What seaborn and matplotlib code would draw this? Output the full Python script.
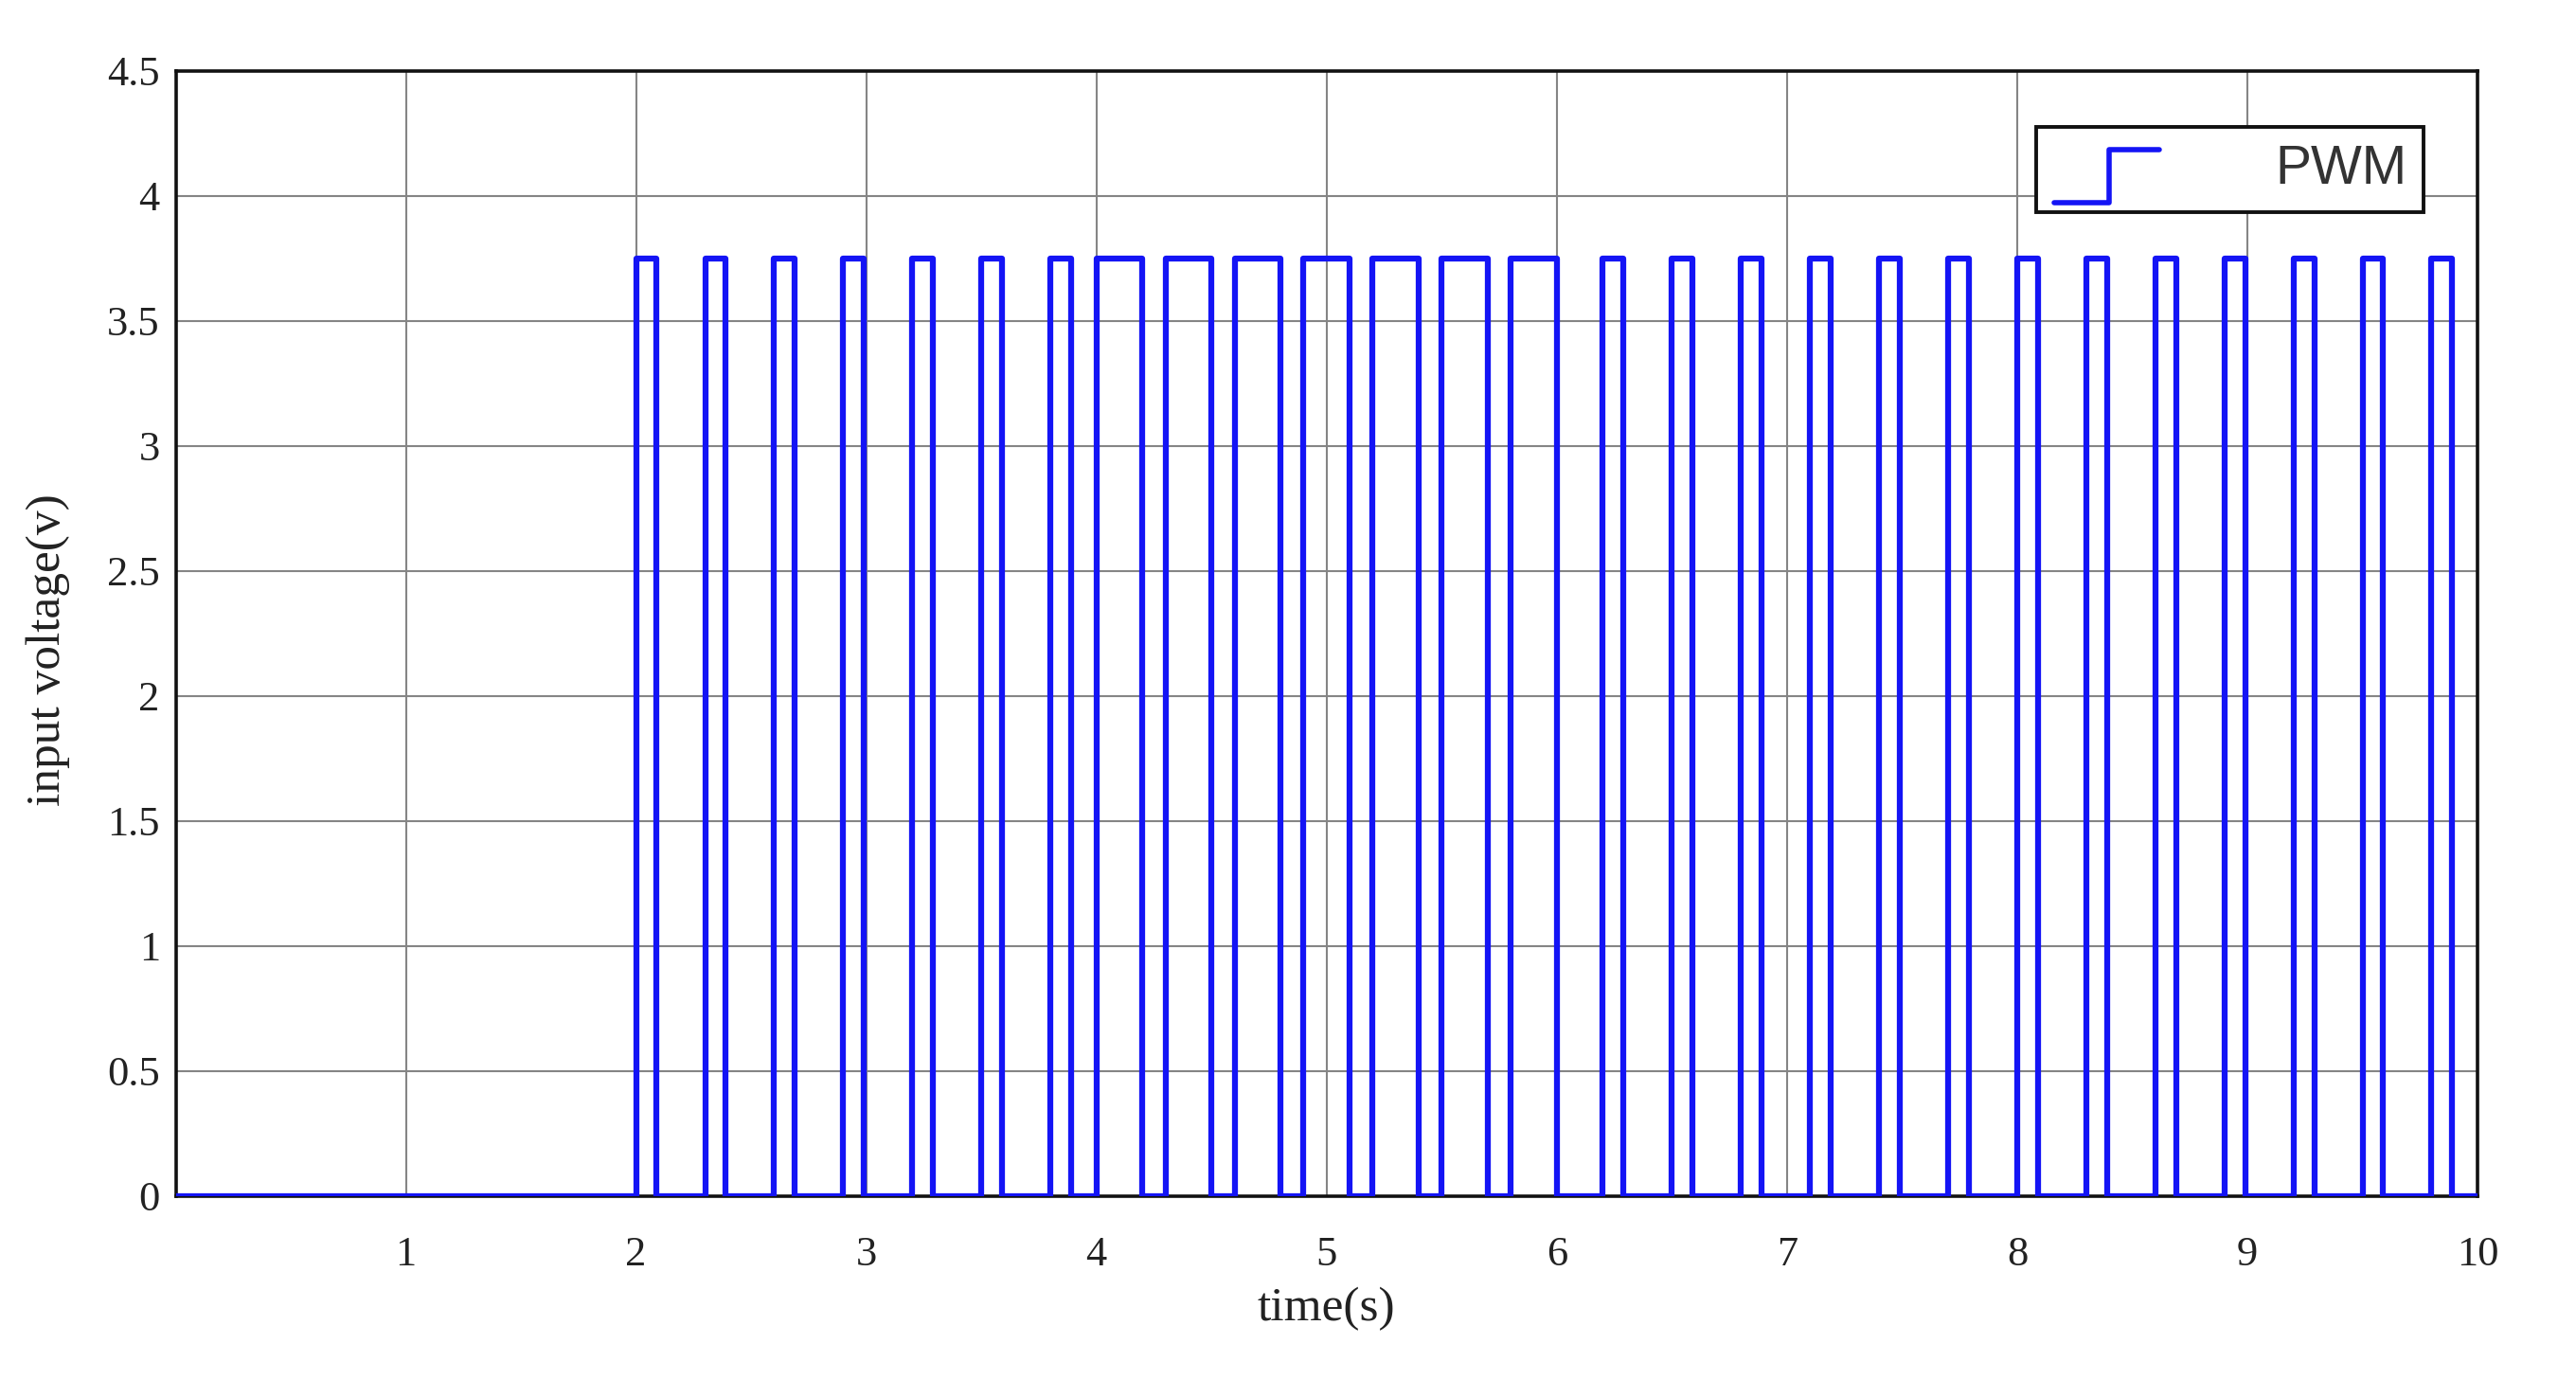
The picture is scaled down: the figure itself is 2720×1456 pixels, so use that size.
import numpy as np
import pandas as pd
import seaborn as sns
import matplotlib
matplotlib.use("Agg")
import matplotlib.pyplot as plt
from matplotlib.lines import Line2D
from matplotlib.legend_handler import HandlerBase

# pulse train (rise time, width in s), amplitude in V
pulse_start = [2.0, 2.3, 2.6, 2.9, 3.2, 3.5, 3.8,
               4.0, 4.3, 4.6, 4.9, 5.2, 5.5, 5.8,
               6.2, 6.5, 6.8, 7.1, 7.4, 7.7, 8.0, 8.3, 8.6, 8.9, 9.2, 9.5, 9.8]
pulse_width = [0.09, 0.09, 0.09, 0.09, 0.09, 0.09, 0.09,
               0.2, 0.2, 0.2, 0.2, 0.2, 0.2, 0.2,
               0.09, 0.09, 0.09, 0.09, 0.09, 0.09, 0.09, 0.09, 0.09, 0.09, 0.09, 0.09, 0.09]
pulse_level = 3.75
t_end = 10.0

xticks = [1, 2, 3, 4, 5, 6, 7, 8, 9, 10]
yticks = [0, 0.5, 1, 1.5, 2, 2.5, 3, 3.5, 4, 4.5]
ytick_labels = ["0", "0.5", "1", "1.5", "2", "2.5", "3", "3.5", "4", "4.5"]

# build the step signal from the edges
t = [0.0]
v = [0.0]
for s, w in zip(pulse_start, pulse_width):
    t += [s, s + w]
    v += [pulse_level, 0.0]
t.append(t_end)
v.append(0.0)
df = pd.DataFrame({"time": t, "voltage": v})

LINE_COLOR = "#1414f5"


class StepHandler(HandlerBase):
    # stairs-like legend icon
    def create_artists(self, legend, orig_handle, xdescent, ydescent,
                       width, height, fontsize, trans):
        x0 = -xdescent
        y0 = -ydescent
        xm = x0 + 0.53 * width
        ys_lo = y0 - 0.5 * height
        ys_hi = y0 + 0.9 * height
        line = Line2D([x0, xm, xm, x0 + width], [ys_lo, ys_lo, ys_hi, ys_hi],
                      color=orig_handle.get_color(),
                      lw=orig_handle.get_linewidth(), transform=trans)
        return [line]


sns.set_style("white")
plt.rcParams['font.family'] = ['Liberation Serif', 'DejaVu Serif']

fig = plt.figure(figsize=(27.2, 14.56), dpi=100)
ax = fig.add_axes([0.0682, 0.1326, 0.8936, 0.8162])

sns.lineplot(data=df, x="time", y="voltage", ax=ax, drawstyle="steps-post",
             color=LINE_COLOR, lw=4.5, sort=False, estimator=None,
             solid_joinstyle="round", zorder=3)

ax.set_xlim(0, 10)
ax.set_ylim(0, 4.5)
ax.set_xticks(xticks)
ax.set_yticks(yticks)
ax.set_xticklabels([str(x) for x in xticks])
ax.set_yticklabels(ytick_labels)
ax.tick_params(axis="both", labelsize=32, length=0, colors="#222222")
ax.tick_params(axis="x", pad=30)
ax.tick_params(axis="y", pad=12)
ax.grid(True, color="#858585", lw=1.5)
for sp in ax.spines.values():
    sp.set_color("#111111")
    sp.set_linewidth(2.6)
    sp.set_visible(True)

ax.set_xlabel("time(s)", fontsize=37, labelpad=10, color="#222222")
ax.set_ylabel("input voltage(v)", fontsize=37, color="#222222")
ax.yaxis.set_label_coords(-0.046, 0.485)

handle = Line2D([], [], color=LINE_COLOR, lw=4.0)
leg = ax.legend([handle], ["PWM"], handler_map={Line2D: StepHandler()},
                loc="upper right", bbox_to_anchor=(0.9767, 0.950),
                borderaxespad=0,
                prop={"family": "Liberation Sans", "size": 41},
                handlelength=1.95, handletextpad=2.15, borderpad=0.32,
                fancybox=False, framealpha=1, edgecolor="#111111")
leg.get_frame().set_linewidth(2.8)
for txt in leg.get_texts():
    txt.set_color("#333333")

fig.savefig("out.png", dpi=100)
